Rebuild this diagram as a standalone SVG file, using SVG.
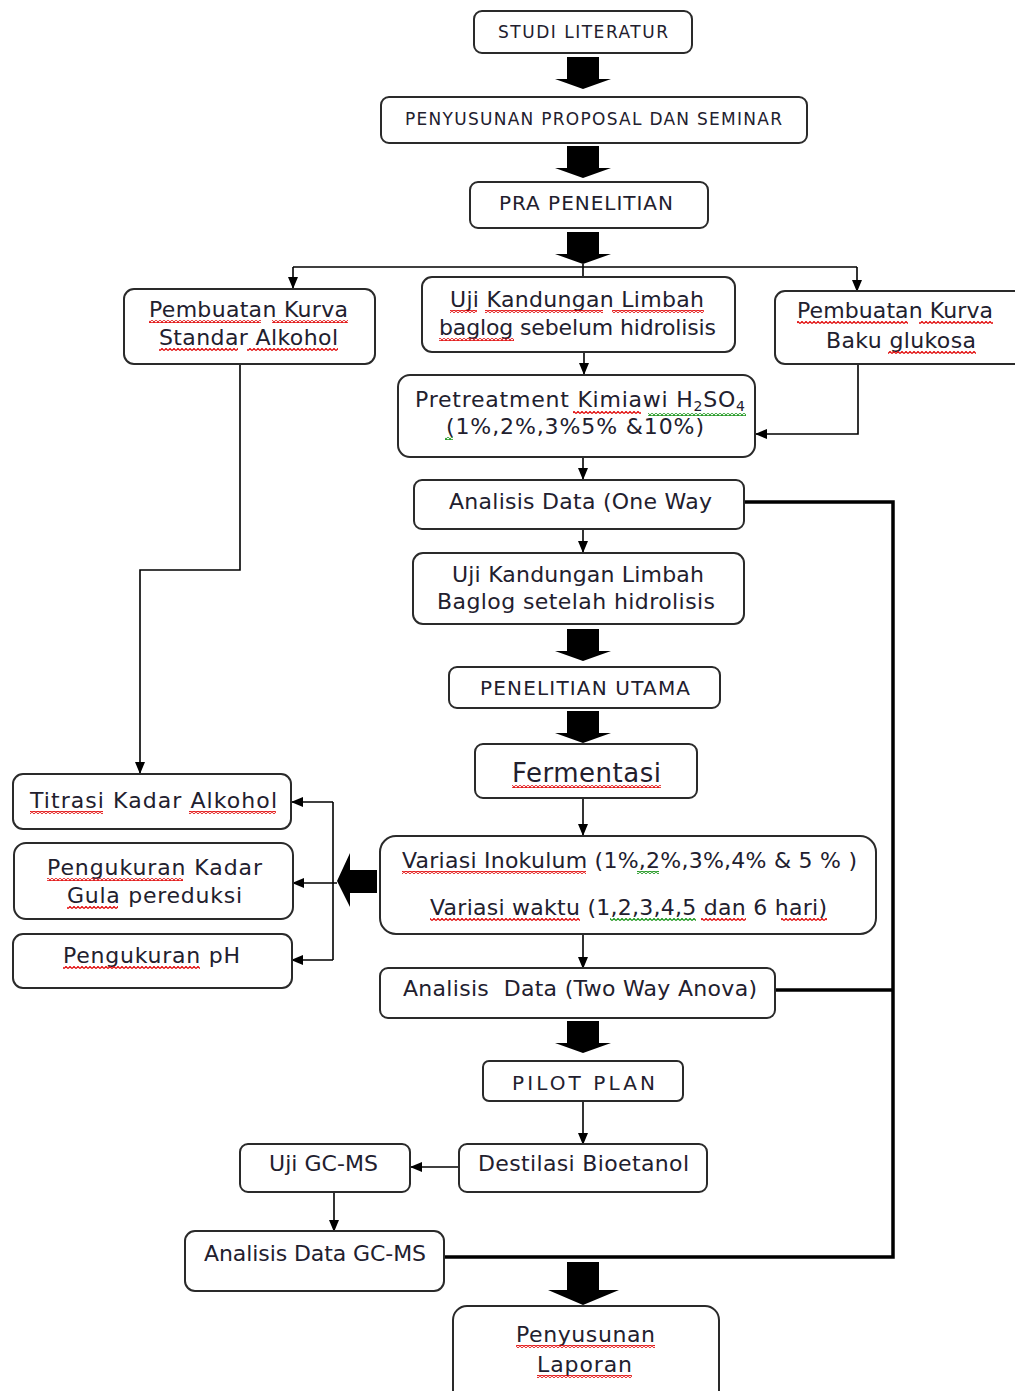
<svg xmlns="http://www.w3.org/2000/svg" width="1015" height="1391" viewBox="0 0 1015 1391">
<style>
.box{fill:#fff;stroke:#2a2a2a;stroke-width:2}
.t{font-family:"DejaVu Sans",Verdana,sans-serif;font-size:22px;fill:#22202e}
.cap{font-size:17px}
.mid{font-size:20px}
.big{font-size:26px}
.ln{fill:none;stroke:#000;stroke-width:1.6}
.thick{fill:none;stroke:#000;stroke-width:3.5}
.blk{fill:#000}
.wr{fill:url(#wr)}
.wg{fill:url(#wg)}
</style>
<defs>
<marker id="ah" markerUnits="userSpaceOnUse" markerWidth="12" markerHeight="12" viewBox="0 0 12 12" refX="11" refY="6" orient="auto">
<path d="M0,1 L12,6 L0,11 Z" fill="#000"/>
</marker>
<path id="barrow" d="M-16,0 H16 V22 H28 L0,32 L-28,22 H-16 Z"/>
<pattern id="wr" patternUnits="userSpaceOnUse" width="4" height="3">
<path d="M0,2.5 L2,0.5 L4,2.5" fill="none" stroke="#e00000" stroke-width="1.2"/>
</pattern>
<pattern id="wg" patternUnits="userSpaceOnUse" width="4" height="3">
<path d="M0,2.5 L2,0.5 L4,2.5" fill="none" stroke="#109010" stroke-width="1.2"/>
</pattern>
</defs>

<g id="connectors">
<use href="#barrow" class="blk" x="583" y="57"/>
<use href="#barrow" class="blk" x="583" y="146"/>
<use href="#barrow" class="blk" x="583" y="232"/>
<use href="#barrow" class="blk" x="583" y="629"/>
<use href="#barrow" class="blk" x="583" y="711"/>
<use href="#barrow" class="blk" x="583" y="1021"/>
<path class="blk" d="M567,1262 H599 V1290 H619 L583,1305 L548,1290 H567 Z"/>
<path class="blk" d="M377,870 H350 V853 L337,881 L350,907 V893 H377 Z"/>
<path class="ln" d="M293,267 H857"/>
<path class="ln" d="M583,264 V277"/>
<path class="ln" d="M293,267 V288" marker-end="url(#ah)"/>
<path class="ln" d="M857,267 V291" marker-end="url(#ah)"/>
<path class="ln" d="M584,352 V374" marker-end="url(#ah)"/>
<path class="ln" d="M858,365 V434 H756" marker-end="url(#ah)"/>
<path class="ln" d="M240,364 V570 H140 V773" marker-end="url(#ah)"/>
<path class="ln" d="M583,457 V479" marker-end="url(#ah)"/>
<path class="ln" d="M583,529 V552" marker-end="url(#ah)"/>
<path class="ln" d="M583,798 V835" marker-end="url(#ah)"/>
<path class="ln" d="M583,934 V968" marker-end="url(#ah)"/>
<path class="ln" d="M333,802 V960"/>
<path class="ln" d="M333,802 H292" marker-end="url(#ah)"/>
<path class="ln" d="M337,883 H293" marker-end="url(#ah)"/>
<path class="ln" d="M333,960 H292" marker-end="url(#ah)"/>
<path class="ln" d="M583,1101 V1144" marker-end="url(#ah)"/>
<path class="ln" d="M459,1167 H411" marker-end="url(#ah)"/>
<path class="ln" d="M334,1192 V1231" marker-end="url(#ah)"/>
<path class="thick" d="M744,502 H893 V1257 H444"/>
<path class="thick" d="M775,990 H893"/>
</g>

<g id="n-studi"><rect class="box" x="474" y="11" width="218" height="42" rx="8"/>
<text class="t cap" x="498" y="38" textLength="170">STUDI LITERATUR</text></g>

<g id="n-proposal"><rect class="box" x="381" y="97" width="426" height="46" rx="8"/>
<text class="t cap" x="405" y="125" textLength="377">PENYUSUNAN PROPOSAL DAN SEMINAR</text></g>

<g id="n-pra"><rect class="box" x="470" y="182" width="238" height="46" rx="8"/>
<text class="t mid" x="499" y="210" textLength="174">PRA PENELITIAN</text></g>

<g id="n-kurva-alkohol"><rect class="box" x="124" y="289" width="251" height="75" rx="10"/>
<text class="t" x="149" y="317" textLength="199">Pembuatan Kurva</text>
<text class="t" x="159" y="345" textLength="179">Standar Alkohol</text>
<rect class="wr" x="149" y="320" width="112" height="3"/><rect class="wr" x="272" y="320" width="76" height="3"/>
<rect class="wr" x="159" y="348" width="79" height="3"/><rect class="wr" x="247" y="348" width="91" height="3"/></g>

<g id="n-uji-sebelum"><rect class="box" x="422" y="277" width="313" height="75" rx="10"/>
<text class="t" x="450" y="307" textLength="254">Uji Kandungan Limbah</text>
<text class="t" x="439" y="335" textLength="277">baglog sebelum hidrolisis</text>
<rect class="wr" x="450" y="310" width="27" height="3"/><rect class="wr" x="485" y="310" width="118" height="3"/><rect class="wr" x="612" y="310" width="92" height="3"/>
<rect class="wr" x="439" y="338" width="75" height="3"/></g>

<g id="n-kurva-glukosa"><rect class="box" x="775" y="291" width="250" height="73" rx="10"/>
<text class="t" x="797" y="318" textLength="196">Pembuatan Kurva</text>
<text class="t" x="826" y="348" textLength="150">Baku glukosa</text>
<rect class="wr" x="797" y="321" width="111" height="3"/><rect class="wr" x="919" y="321" width="74" height="3"/>
<rect class="wr" x="888" y="351" width="88" height="3"/></g>

<g id="n-pretreatment"><rect class="box" x="398" y="375" width="357" height="82" rx="12"/>
<text class="t" x="415" y="407" textLength="330">Pretreatment Kimiawi H<tspan font-size="14" dy="4">2</tspan><tspan dy="-4">SO</tspan><tspan font-size="14" dy="4">4</tspan></text>
<text class="t" x="446" y="434" textLength="258">(1%,2%,3%5% &amp;10%)</text>
<rect class="wr" x="573" y="411" width="68" height="3"/><rect class="wg" x="648" y="413" width="98" height="3"/>
<rect class="wg" x="445" y="437" width="8" height="3"/></g>

<g id="n-anova1"><rect class="box" x="414" y="480" width="330" height="49" rx="8"/>
<text class="t" x="449" y="509" textLength="263">Analisis Data (One Way</text></g>

<g id="n-uji-setelah"><rect class="box" x="413" y="553" width="331" height="71" rx="10"/>
<text class="t" x="452" y="582" textLength="252">Uji Kandungan Limbah</text>
<text class="t" x="437" y="609" textLength="278">Baglog setelah hidrolisis</text></g>

<g id="n-utama"><rect class="box" x="449" y="667" width="271" height="41" rx="8"/>
<text class="t mid" x="480" y="695" textLength="210">PENELITIAN UTAMA</text></g>

<g id="n-fermentasi"><rect class="box" x="475" y="744" width="222" height="54" rx="8"/>
<text class="t big" x="512" y="782" textLength="149">Fermentasi</text>
<rect class="wr" x="512" y="785" width="149" height="3"/></g>

<g id="n-variasi"><rect class="box" x="380" y="836" width="496" height="98" rx="16"/>
<text class="t" x="402" y="868" textLength="455">Variasi Inokulum (1%,2%,3%,4% &amp; 5 % )</text>
<text class="t" x="430" y="915" textLength="397">Variasi waktu (1,2,3,4,5 dan 6 hari)</text>
<rect class="wr" x="402" y="871" width="184" height="3"/><rect class="wg" x="637" y="871" width="22" height="3"/>
<rect class="wr" x="430" y="918" width="150" height="3"/><rect class="wg" x="610" y="918" width="86" height="3"/><rect class="wr" x="701" y="918" width="45" height="3"/><rect class="wr" x="781" y="918" width="46" height="3"/></g>

<g id="n-anova2"><rect class="box" x="380" y="968" width="395" height="50" rx="8"/>
<text class="t" x="403" y="996" textLength="354" style="white-space:pre">Analisis  Data (Two Way Anova)</text></g>

<g id="n-titrasi"><rect class="box" x="13" y="774" width="278" height="55" rx="10"/>
<text class="t" x="30" y="808" textLength="247">Titrasi Kadar Alkohol</text>
<rect class="wr" x="30" y="811" width="73" height="3"/><rect class="wr" x="189" y="811" width="87" height="3"/></g>

<g id="n-gula"><rect class="box" x="14" y="843" width="279" height="76" rx="12"/>
<text class="t" x="47" y="875" textLength="215">Pengukuran Kadar</text>
<text class="t" x="67" y="903" textLength="175">Gula pereduksi</text>
<rect class="wr" x="47" y="878" width="136" height="3"/><rect class="wr" x="67" y="906" width="51" height="3"/></g>

<g id="n-ph"><rect class="box" x="13" y="934" width="279" height="54" rx="10"/>
<text class="t" x="63" y="963" textLength="177">Pengukuran pH</text>
<rect class="wr" x="63" y="966" width="137" height="3"/></g>

<g id="n-pilot"><rect class="box" x="483" y="1061" width="200" height="40" rx="6"/>
<text class="t mid" x="512" y="1090" textLength="143">PILOT PLAN</text></g>

<g id="n-destilasi"><rect class="box" x="459" y="1144" width="248" height="48" rx="8"/>
<text class="t" x="478" y="1171" textLength="211">Destilasi Bioetanol</text></g>

<g id="n-gcms"><rect class="box" x="240" y="1144" width="170" height="48" rx="8"/>
<text class="t" x="269" y="1171" textLength="109">Uji GC-MS</text></g>

<g id="n-analisis-gcms"><rect class="box" x="185" y="1231" width="259" height="60" rx="10"/>
<text class="t" x="204" y="1261" textLength="222">Analisis Data GC-MS</text></g>

<g id="n-laporan"><rect class="box" x="453" y="1306" width="266" height="100" rx="14"/>
<text class="t" x="516" y="1342" textLength="139">Penyusunan</text>
<text class="t" x="537" y="1372" textLength="95">Laporan</text>
<rect class="wr" x="516" y="1345" width="139" height="3"/><rect class="wr" x="537" y="1375" width="95" height="3"/></g>
</svg>
